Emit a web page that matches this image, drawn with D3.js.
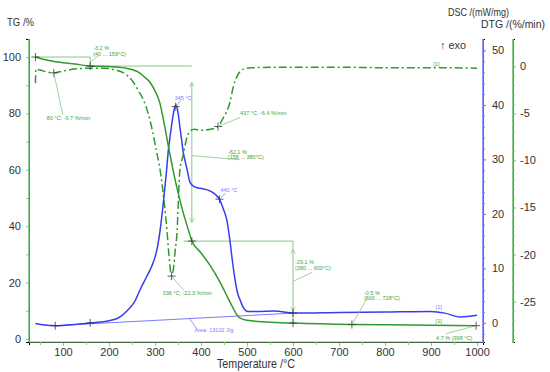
<!DOCTYPE html>
<html>
<head>
<meta charset="utf-8">
<script src="https://cdnjs.cloudflare.com/ajax/libs/d3/7.8.5/d3.min.js"></script>
<style>
  body { margin: 0; background: #fff; }
  text { font-family: "Liberation Sans", Arial, sans-serif; }
  .tick text { fill: #333; font-size: 11px; }
  .note { font-size: 5.5px; }
</style>
</head>
<body>
<div id="chart"></div>
<script>
// TG curve (mass %, solid)
var tgTemp = [40, 55, 75, 100, 126, 159, 198, 235, 262, 275, 290, 300, 310, 318, 330, 347, 360, 370, 380, 400, 420, 440, 460, 470, 480, 490, 500, 543, 600, 728, 800, 900, 998];
var tgVal  = [100, 99.3, 98.6, 98.0, 97.5, 96.8, 96.6, 96.1, 94.8, 93.2, 90.8, 88.0, 84.0, 78.0, 67.5, 54, 45.5, 40, 34.8, 30.5, 26, 20.5, 14, 10.8, 8.0, 7.0, 6.6, 6.0, 5.6, 5.1, 5.0, 4.85, 4.7];

// DSC curve (mW/mg, blue)
var dscTemp = [40, 60, 83, 100, 130, 159, 200, 220, 239, 255, 267, 280, 289, 297, 304, 311, 318, 324, 329, 334, 339, 342, 345, 348, 351, 354, 358, 361, 366, 370, 376, 385, 398, 420, 440, 448, 456, 463, 468, 474, 480, 485, 492, 502, 520, 560, 600, 700, 800, 900, 930, 963, 1000];
var dscVal  = [-0.1, -0.4, -0.5, -0.45, -0.25, 0, 0.4, 0.9, 2.2, 3.8, 6, 8.2, 9.7, 11.3, 13.4, 17, 22, 27, 31.7, 35, 38, 39.3, 40, 39.5, 38, 36, 33.5, 31.5, 29.5, 28, 25.8, 25, 24.7, 24.2, 22.7, 21, 18.9, 15, 11.5, 7.9, 5.3, 4.2, 2.8, 2.1, 2.1, 2.2, 1.8, 1.9, 2.0, 2.1, 1.8, 1.1, 1.4];

// DTG curve (%/min, dash-dot)
var dtgTemp = [40, 41, 50, 65, 80, 100, 125, 159, 190, 213, 235, 253, 265, 275, 285, 295, 303, 311, 320, 326, 331, 336, 340, 344, 348, 351, 354, 361, 368, 376, 385, 400, 420, 437, 448, 456, 463, 470, 478, 486, 495, 510, 600, 700, 800, 900, 1000];
var dtgVal  = [-1.8, -0.3, -0.4, -0.6, -0.7, -0.5, -0.3, -0.2, -0.2, -0.4, -0.8, -1.7, -2.7, -3.6, -5, -7, -9, -11, -14.5, -17.5, -20.5, -22.3, -21.5, -19.5, -17.5, -14, -11, -9.5, -7.8, -6.9, -6.7, -6.8, -6.7, -6.4, -5.5, -4.8, -3.8, -2.2, -1.1, -0.5, -0.25, -0.15, -0.1, -0.1, -0.15, -0.15, -0.2];

// tick labels
var xTicks = [100, 200, 300, 400, 500, 600, 700, 800, 900, 1000];
var tgTicks = [0, 20, 40, 60, 80, 100];
var dscTicks = [0, 10, 20, 30, 40, 50];
var dtgTicks = [0, -5, -10, -15, -20, -25];

// evaluated points
var tgPts = [[40, 100], [159, 96.8], [380, 34.7], [600, 5.6], [728, 5.1], [998, 4.7]];
var dscPts = [[83, -0.5], [159, 0], [345, 39.7], [440, 22.7], [600, 1.8]];
var dtgPts = [[80, -0.7], [336, -22.3], [437, -6.4]];
var baseline = [[83, -0.5], [600, 1.8]];

var W = 550, H = 372;
var plot = {left: 29, right: 483, top: 39, bottom: 342};

var x = d3.scaleLinear().domain([26, 1013]).range([plot.left, plot.right]);
var yTG = d3.scaleLinear().domain([-1.1, 106.4]).range([plot.bottom, plot.top]);
var yDSC = d3.scaleLinear().domain([-3.5, 52.1]).range([plot.bottom, plot.top]);
var yDTG = d3.scaleLinear().domain([-29.3, 2.9]).range([plot.bottom, plot.top]);

var green = "#2f9a2f", light = "#86c886", blue = "#3a3af0", lblue = "#7b7bff", noteGreen = "#3da53d";

var svg = d3.select('#chart').append('svg')
  .attr('width', W)
  .attr('height', H);

var defs = svg.append('defs');
defs.append('marker')
  .attr('id', 'arr')
  .attr('viewBox', '0 0 8 8')
  .attr('refX', 7).attr('refY', 4)
  .attr('markerWidth', 6).attr('markerHeight', 6)
  .attr('orient', 'auto-start-reverse')
  .append('path')
  .attr('d', 'M1,1 L7,4 L1,7')
  .attr('fill', 'none')
  .attr('stroke', light)
  .attr('stroke-width', 1);

// ---- axes
function styleAxis(g, col) {
  g.select('.domain').remove();
  g.selectAll('.tick line').attr('stroke', col);
}

var fmt = function(d) { return String(d); };

var gx = svg.append('g').attr('transform', 'translate(0,' + plot.bottom + ')');
gx.call(d3.axisBottom(x).tickValues(xTicks).tickSize(4).tickPadding(2).tickFormat(fmt));
gx.append('g').call(d3.axisBottom(x).tickValues(d3.range(50, 1000, 100)).tickSize(3).tickFormat(''));
styleAxis(gx, light);

var gl = svg.append('g').attr('transform', 'translate(' + plot.left + ',0)');
gl.call(d3.axisLeft(yTG).tickValues(tgTicks).tickSize(3).tickPadding(5).tickFormat(fmt));
gl.append('g').call(d3.axisLeft(yTG).tickValues([10, 30, 50, 70, 90]).tickSize(3).tickFormat(''));
styleAxis(gl, light);

var gb = svg.append('g').attr('transform', 'translate(' + plot.right + ',0)');
gb.call(d3.axisRight(yDSC).tickValues(dscTicks).tickSize(3).tickPadding(6).tickFormat(fmt));
gb.append('g').call(d3.axisRight(yDSC).tickValues(d3.range(-2, 52, 2)).tickSize(2).tickFormat(''));
styleAxis(gb, lblue);

var gd = svg.append('g').attr('transform', 'translate(513,0)');
gd.call(d3.axisRight(yDTG).tickValues(dtgTicks).tickSize(3).tickPadding(4).tickFormat(fmt));
gd.append('g').call(d3.axisRight(yDTG).tickValues(d3.range(-29, 3, 1)).tickSize(2).tickFormat(''));
styleAxis(gd, light);

// axis lines
svg.append('line').attr('x1', plot.left).attr('x2', plot.right).attr('y1', plot.bottom).attr('y2', plot.bottom)
  .attr('stroke', light).attr('stroke-width', 1.2);
svg.append('line').attr('x1', plot.left).attr('x2', plot.left).attr('y1', plot.top).attr('y2', plot.bottom)
  .attr('stroke', "#6fbf6f").attr('stroke-width', 1.6);
svg.append('line').attr('x1', plot.right).attr('x2', plot.right).attr('y1', plot.top).attr('y2', plot.bottom + 1)
  .attr('stroke', lblue).attr('stroke-width', 1.6);
svg.append('line').attr('x1', 513).attr('x2', 513).attr('y1', plot.top).attr('y2', plot.bottom + 1)
  .attr('stroke', "#6fbf6f").attr('stroke-width', 1.6);

// titles (the original font is a little narrow, so fit widths)
function title(tx, ty, size, len, s, anchor) {
  return svg.append('text').attr('x', tx).attr('y', ty).attr('font-size', size).attr('fill', '#333')
    .attr('textLength', len).attr('lengthAdjust', 'spacingAndGlyphs')
    .style('text-anchor', anchor || 'start').text(s);
}
title(7, 26, 11.5, 27, 'TG /%');
title(448, 16, 11.5, 61, 'DSC /(mW/mg)');
title(481, 28, 11.5, 64, 'DTG /(%/min)');
title(440, 49, 11, 26, '\u2191 exo');
title(256, 368, 12.5, 78, 'Temperature /\u00b0C', 'middle');

// ---- annotation lines (mass change steps)
var ann = svg.append('g').attr('stroke', light).attr('stroke-width', 1).attr('fill', 'none');
ann.append('line').attr('x1', x(40)).attr('x2', x(159)).attr('y1', yTG(100)).attr('y2', yTG(100));
ann.append('line').attr('x1', x(159)).attr('x2', x(159)).attr('y1', yTG(100)).attr('y2', yTG(96.8));
ann.append('line').attr('x1', x(159)).attr('x2', x(380)).attr('y1', yTG(96.8)).attr('y2', yTG(96.8));
ann.append('line').attr('x1', x(380)).attr('x2', x(380)).attr('y1', yTG(91)).attr('y2', yTG(41.3))
  .attr('marker-start', 'url(#arr)').attr('marker-end', 'url(#arr)');
ann.append('line').attr('x1', x(362)).attr('x2', x(600)).attr('y1', yTG(34.7)).attr('y2', yTG(34.7));
ann.append('line').attr('x1', x(600)).attr('x2', x(600)).attr('y1', yTG(34.7)).attr('y2', yTG(31.8));
ann.append('line').attr('x1', x(600)).attr('x2', x(600)).attr('y1', yTG(31.8)).attr('y2', yTG(9.8))
  .attr('marker-start', 'url(#arr)').attr('marker-end', 'url(#arr)');
ann.append('line').attr('x1', x(600)).attr('x2', x(600)).attr('y1', yTG(9.8)).attr('y2', yTG(5.6));

// DSC baseline (peak integration)
svg.append('path')
  .datum(baseline)
  .attr('d', d3.line().x(function(d) { return x(d[0]); }).y(function(d) { return yDSC(d[1]); }))
  .attr('fill', 'none').attr('stroke', lblue).attr('stroke-width', 1);

// ---- curves
function zip(a, b) { return a.map(function(v, i) { return [v, b[i]]; }); }

svg.append('path')
  .datum(zip(dtgTemp, dtgVal))
  .attr('d', d3.line().curve(d3.curveMonotoneX).x(function(d) { return x(d[0]); }).y(function(d) { return yDTG(d[1]); }))
  .attr('fill', 'none').attr('stroke', green).attr('stroke-width', 1.5)
  .attr('stroke-dasharray', '8,3,2,3');

svg.append('path')
  .datum(zip(dscTemp, dscVal))
  .attr('d', d3.line().curve(d3.curveMonotoneX).x(function(d) { return x(d[0]); }).y(function(d) { return yDSC(d[1]); }))
  .attr('fill', 'none').attr('stroke', blue).attr('stroke-width', 1.5);

svg.append('path')
  .datum(zip(tgTemp, tgVal))
  .attr('d', d3.line().curve(d3.curveMonotoneX).x(function(d) { return x(d[0]); }).y(function(d) { return yTG(d[1]); }))
  .attr('fill', 'none').attr('stroke', green).attr('stroke-width', 1.5);

// ---- cross markers
function crosses(pts, ys) {
  var g = svg.append('g').attr('stroke', '#333').attr('stroke-width', 0.8);
  pts.forEach(function(p) {
    var cx = x(p[0]), cy = ys(p[1]);
    g.append('line').attr('x1', cx - 4).attr('x2', cx + 4).attr('y1', cy).attr('y2', cy);
    g.append('line').attr('x1', cx).attr('x2', cx).attr('y1', cy - 4).attr('y2', cy + 4);
  });
}
crosses(tgPts, yTG);
crosses(dscPts, yDSC);
crosses(dtgPts, yDTG);

// ---- labels with leader lines
function note(px, py, lx, ly, tx, ty, lines, col) {
  svg.append('line').attr('x1', px).attr('y1', py).attr('x2', lx).attr('y2', ly)
    .attr('stroke', col === blue ? lblue : (col === lblue ? lblue : light)).attr('stroke-width', 0.8);
  lines.forEach(function(s, i) {
    svg.append('text').attr('class', 'note').attr('x', tx).attr('y', ty + i * 5.5)
      .attr('fill', col).text(s);
  });
}

note(x(159), yTG(96.8) - 4, x(159) + 8, yTG(96.8) - 10, x(159) + 3, yTG(96.8) - 16,
  ['-3.2 %', '(40 ... 159\u00b0C)'], noteGreen);
note(x(80), yDTG(-0.7), x(80) + 9, yDTG(-0.7) + 42, x(80) - 7, yDTG(-0.7) + 47,
  ['80 \u00b0C; -0.7 %/min'], noteGreen);
note(x(345), yDSC(39.7), x(345) + 5, yDSC(39.7) - 6, x(345) - 1, yDSC(39.7) - 7,
  ['345 \u00b0C'], lblue);
note(x(437), yDTG(-6.4), x(437) + 22, yDTG(-6.4) - 9, x(437) + 22, yDTG(-6.4) - 12,
  ['437 \u00b0C; -6.4 %/min'], noteGreen);
note(x(380), yTG(65), x(380) + 48, yTG(65) + 4, x(380) + 36, yTG(65) - 2,
  ['-62.1 %', '(158 ... 380\u00b0C)'], noteGreen);
note(x(440), yDSC(22.7), x(440) + 6, yDSC(22.7) - 6, x(440) + 1, yDSC(22.7) - 7,
  ['440 \u00b0C'], lblue);
note(x(336), yDTG(-22.3), x(336) + 12, yDTG(-22.3) + 14, x(336) - 9, yDTG(-22.3) + 19,
  ['336 \u00b0C; -22.3 %/min'], noteGreen);
note(x(600), yTG(20.4), x(600) + 19, yTG(20.4) - 9, x(600) + 2, yTG(20.4) - 17,
  ['-29.1 %', '(380 ... 600\u00b0C)'], noteGreen);
note(x(728), yTG(5.1), x(728) + 15, yTG(5.1) - 26, x(728) + 12, yTG(5.1) - 30,
  ['-0.5 %', '(600 ... 728\u00b0C)'], noteGreen);
note(x(998), yTG(4.7), x(998) - 30, yTG(4.7) + 8, x(998) - 40, yTG(4.7) + 14,
  ['4.7 % (998 \u00b0C)'], noteGreen);
note(x(375), yDSC(0.8), x(375) + 7, yDSC(0.8) + 10, x(375) + 5, yDSC(0.8) + 13,
  ['Area: 13102 J/g'], lblue);

// curve tags
svg.append('text').attr('class', 'note').attr('x', x(910)).attr('y', yDSC(2.1) - 2).attr('fill', lblue).text('[1]');
svg.append('text').attr('class', 'note').attr('x', x(910)).attr('y', yTG(4.85) - 2).attr('fill', noteGreen).text('[1]');
svg.append('text').attr('class', 'note').attr('x', x(905)).attr('y', yDTG(-0.15) - 2).attr('fill', noteGreen).text('[1]');
</script>
</body>
</html>
